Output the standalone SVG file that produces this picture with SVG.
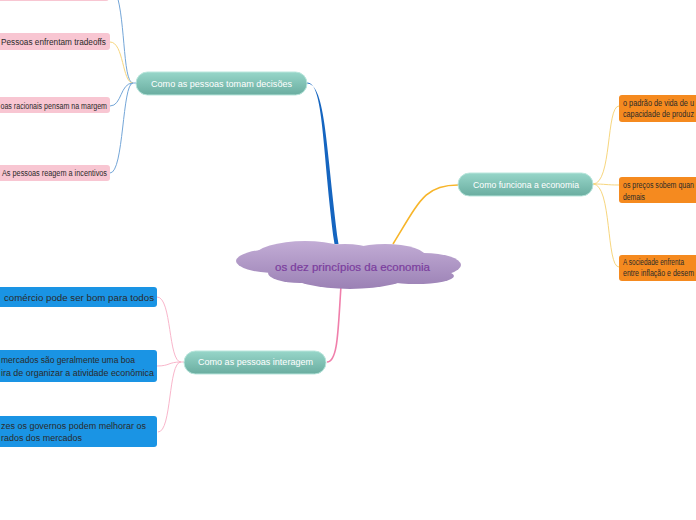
<svg xmlns="http://www.w3.org/2000/svg" width="696" height="520" viewBox="0 0 696 520">
<defs>
<linearGradient id="teal" x1="0" y1="0" x2="0" y2="1">
<stop offset="0" stop-color="#97d6c9"/><stop offset="1" stop-color="#6aada0"/>
</linearGradient>
<linearGradient id="cloud" gradientUnits="userSpaceOnUse" x1="0" y1="240" x2="0" y2="290">
<stop offset="0" stop-color="#c3add6"/><stop offset="1" stop-color="#9a80b4"/>
</linearGradient>
<style>
.topic rect{fill:url(#teal);stroke:#b9e6dc;stroke-width:1}
.topic text{fill:#ffffff;font-family:"Liberation Sans",Arial,sans-serif;font-size:9px}
.pink rect{fill:#f8c6d2}
.orange rect{fill:#f58a1f}
.blue rect{fill:#1a94e4}
.leaf text{fill:#2a2a2a;font-family:"Liberation Sans",Arial,sans-serif;font-size:8.5px}
.c{fill:none;stroke-width:1}
</style>
</defs>
<rect width="696" height="520" fill="#ffffff"/>
<g id="connectors">
<path class="c" stroke="#74a6d8" d="M133,83 C122,83 126,10 114,-12"/>
<path class="c" stroke="#f7d67e" d="M133,83 C122,83 124,42 110,42"/>
<path class="c" stroke="#74a6d8" d="M133,83 C120,83 122,106 110,106"/>
<path class="c" stroke="#74a6d8" d="M133,83 C122,83 124,173 110,173"/>
<path d="M133,83 L137,83" stroke="#74a6d8" stroke-width="1"/>
<path class="c" stroke="#f7d67e" d="M593,184 C612,184 606,106 619,106"/>
<path class="c" stroke="#f7d67e" d="M593,184 C606,184 606,185 619,185"/>
<path class="c" stroke="#f7d67e" d="M593,184 C612,184 606,267 619,267"/>
<path class="c" stroke="#f9b6cb" d="M181,362 C168,362 172,297 157,297"/>
<path class="c" stroke="#f9b6cb" d="M181,362 C168,362 170,366 157,366"/>
<path class="c" stroke="#f9b6cb" d="M181,362 C168,362 172,432 158,432"/>
<path d="M181,362 L185,362" stroke="#f9b6cb" stroke-width="1"/>
<path fill="#1565c0" d="M307,82.5 C324,82.5 322,150 334.5,244 L338.5,244 C326,150 326,83.5 307,83.5 Z"/>
<path fill="none" stroke="#f7b52a" stroke-width="1.6" d="M393,244 C420,200 425,185 458,185"/>
<path fill="none" stroke="#f07fab" stroke-width="1.6" d="M341,286 C338,330 338,362 327,362"/>
</g>
<g id="root">
<g fill="url(#cloud)">
<ellipse cx="276" cy="261" rx="40" ry="12"/>
<ellipse cx="305" cy="256" rx="50" ry="15"/>
<ellipse cx="385" cy="258" rx="42" ry="14"/>
<ellipse cx="424" cy="265" rx="37" ry="12"/>
<ellipse cx="350" cy="274" rx="60" ry="15"/>
<ellipse cx="300" cy="273" rx="32" ry="10"/>
<ellipse cx="416" cy="276" rx="38" ry="8"/>
<ellipse cx="345" cy="260" rx="40" ry="16"/>
</g>
<text x="275" y="271" textLength="155" lengthAdjust="spacingAndGlyphs" fill="#7b3d9e" font-family="'Liberation Sans',Arial,sans-serif" font-size="10.5" stroke="#7b3d9e" stroke-width="0.2">os dez princípios da economia</text>
</g>
<g id="topic-decisoes" class="topic">
<rect x="136" y="72" width="171" height="23" rx="11.5"/>
<text x="151" y="86.5" textLength="141" lengthAdjust="spacingAndGlyphs">Como as pessoas tomam decisões</text>
</g>
<g id="topic-economia" class="topic">
<rect x="458" y="173" width="135" height="23" rx="11.5"/>
<text x="473" y="187.5" textLength="106" lengthAdjust="spacingAndGlyphs">Como funciona a economia</text>
</g>
<g id="topic-interagem" class="topic">
<rect x="184" y="351" width="142" height="23" rx="11.5"/>
<text x="198" y="365" textLength="115" lengthAdjust="spacingAndGlyphs">Como as pessoas interagem</text>
</g>
<g id="leaf-top" class="leaf pink">
<rect x="-20" y="-20" width="129" height="21" rx="3"/>
</g>
<g id="leaf-tradeoffs" class="leaf pink">
<rect x="-20" y="33" width="130" height="17" rx="3"/>
<text x="1" y="45" textLength="105" lengthAdjust="spacingAndGlyphs">Pessoas enfrentam tradeoffs</text>
</g>
<g id="leaf-margem" class="leaf pink">
<rect x="-20" y="97" width="130" height="16" rx="3"/>
<text x="0.5" y="108.5" textLength="106.5" lengthAdjust="spacingAndGlyphs">oas racionais pensam na margem</text>
</g>
<g id="leaf-incentivos" class="leaf pink">
<rect x="-20" y="165" width="130" height="16" rx="3"/>
<text x="2" y="176" textLength="105" lengthAdjust="spacingAndGlyphs">As pessoas reagem a incentivos</text>
</g>
<g id="leaf-padrao" class="leaf orange">
<rect x="619" y="95" width="100" height="27" rx="3"/>
<text x="623" y="106" textLength="71" lengthAdjust="spacingAndGlyphs">o padrão de vida de u</text>
<text x="623" y="117" textLength="71" lengthAdjust="spacingAndGlyphs">capacidade de produz</text>
</g>
<g id="leaf-precos" class="leaf orange">
<rect x="619" y="177" width="100" height="26" rx="3"/>
<text x="623" y="188" textLength="71" lengthAdjust="spacingAndGlyphs">os preços sobem quan</text>
<text x="623" y="200" textLength="22" lengthAdjust="spacingAndGlyphs">demais</text>
</g>
<g id="leaf-inflacao" class="leaf orange">
<rect x="619" y="255" width="100" height="26" rx="3"/>
<text x="623" y="265" textLength="61" lengthAdjust="spacingAndGlyphs">A sociedade enfrenta</text>
<text x="623" y="276" textLength="71" lengthAdjust="spacingAndGlyphs">entre inflação e desem</text>
</g>
<g id="leaf-comercio" class="leaf blue">
<rect x="-20" y="287" width="177" height="20" rx="3"/>
<text x="4" y="300.5" textLength="150" lengthAdjust="spacingAndGlyphs">comércio pode ser bom para todos</text>
</g>
<g id="leaf-mercados" class="leaf blue">
<rect x="-20" y="350" width="177" height="32" rx="3"/>
<text x="1" y="363" textLength="134" lengthAdjust="spacingAndGlyphs">mercados são geralmente uma boa</text>
<text x="1" y="376" textLength="153" lengthAdjust="spacingAndGlyphs">ira de organizar a atividade econômica</text>
</g>
<g id="leaf-governos" class="leaf blue">
<rect x="-20" y="416" width="177" height="31" rx="3"/>
<text x="1" y="429" textLength="145" lengthAdjust="spacingAndGlyphs">zes os governos podem melhorar os</text>
<text x="1" y="441" textLength="81" lengthAdjust="spacingAndGlyphs">rados dos mercados</text>
</g>
</svg>
